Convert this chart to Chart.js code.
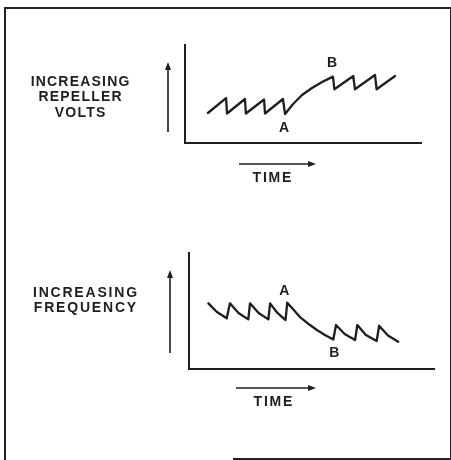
<!DOCTYPE html>
<html>
<head>
<meta charset="utf-8">
<script src="https://cdn.jsdelivr.net/npm/chart.js@4.4.0/dist/chart.umd.min.js"></script>
<style>
  html, body { margin: 0; padding: 0; background: #fff; }
  body { width: 451px; height: 460px; position: relative; overflow: hidden; }
  #frame { position: absolute; left: 4px; top: 7px; width: 444px; height: 460px;
           border-left: 2px solid #222; border-top: 2px solid #222; border-right: 2px solid #222; }
  #frameBottom { position: absolute; left: 233px; top: 458px; width: 218px; border-top: 2px solid #222; }
  canvas { position: absolute; left: 0; }
</style>
</head>
<body>
<div id="frame"></div>
<div id="frameBottom"></div>
<canvas id="topChart" width="451" height="230" style="top:0"></canvas>
<canvas id="bottomChart" width="451" height="230" style="top:230px"></canvas>
<script>
// upper trace: repeller volts vs time (0-100 arbitrary units)
const topTime  = [9.7, 17.4, 17.8, 25.4, 25.8, 33.5, 33.9, 41.5, 42.4, 45.8, 49.6, 53.8, 58.1, 62.7, 63.3, 71.3, 72.0, 80.5, 81.2, 89.0];
const topVolts = [30.6, 45.9, 30.1, 44.9, 30.1, 44.4, 30.1, 44.9, 29.6, 39.8, 49.0, 56.1, 62.2, 67.7, 54.8, 68.4, 54.8, 69.4, 54.8, 68.4];
const topLabels = ['INCREASING', 'REPELLER', 'VOLTS'];
const topMarks = { A: 8, B: 13 };

// lower trace: frequency vs time
const bottomTime = [7.9, 11.4, 15.4, 16.7, 20.2, 24.2, 24.9, 28.4, 32.4, 33.1, 36.1, 39.4, 40.1, 42.4, 45.3, 49.4, 52.2, 55.5, 58.9, 60.0, 63.5, 67.8, 68.7, 72.2, 76.6, 77.6, 81.2, 85.4];
const bottomFreq = [56.6, 49.1, 43.7, 56.6, 48.3, 42.8, 56.6, 48.3, 42.8, 56.6, 48.3, 42.2, 57.2, 51.7, 44.8, 37.9, 33.6, 29.3, 25.4, 37.9, 30.2, 25.0, 37.9, 29.3, 24.1, 37.3, 28.9, 23.5];
const bottomLabels = ['INCREASING', 'FREQUENCY'];
const bottomMarks = { A: 12, B: 18 };

const ink = '#1e1e1e';

function spacedText(ctx, text, x, y, size, spacing) {
  ctx.save();
  ctx.font = 'bold ' + size + 'px "Liberation Sans", Arial, sans-serif';
  ctx.letterSpacing = spacing + 'px';
  ctx.fillStyle = ink;
  ctx.textAlign = 'center';
  ctx.textBaseline = 'middle';
  ctx.fillText(text, x + spacing / 2, y);
  ctx.restore();
}

function arrow(ctx, x1, y1, x2, y2) {
  const ang = Math.atan2(y2 - y1, x2 - x1);
  ctx.save();
  ctx.strokeStyle = ink;
  ctx.fillStyle = ink;
  ctx.lineWidth = 1.6;
  ctx.beginPath();
  ctx.moveTo(x1, y1);
  ctx.lineTo(x2 - 5 * Math.cos(ang), y2 - 5 * Math.sin(ang));
  ctx.stroke();
  ctx.translate(x2, y2);
  ctx.rotate(ang);
  ctx.beginPath();
  ctx.moveTo(0, 0);
  ctx.lineTo(-8, -3);
  ctx.lineTo(-8, 3);
  ctx.closePath();
  ctx.fill();
  ctx.restore();
}

// draws side caption, arrows and A/B marks around the plot
function decor(o) {
  return {
    id: 'decor',
    afterDraw(chart) {
      const ctx = chart.ctx, a = chart.chartArea;
      o.labels.forEach((t, i) => spacedText(ctx, t, a.left + o.labelDx, a.top + o.labelY + i * 15.5, 14, o.labelSpacing));
      arrow(ctx, a.left - o.upDx, a.bottom - o.upBottom, a.left - o.upDx, a.top + o.upTop);
      arrow(ctx, a.left + o.timeX1, a.bottom + o.timeDy, a.left + o.timeX2, a.bottom + o.timeDy);
      spacedText(ctx, 'TIME', a.left + o.timeTextX, a.bottom + o.timeDy + 14, 14, 1.8);
      const pts = chart.getDatasetMeta(0).data;
      Object.keys(o.marks).forEach(k => {
        const p = pts[o.marks[k]];
        const off = o.markOffsets[k];
        spacedText(ctx, k, p.x + off[0], p.y + off[1], 14, 0);
      });
    }
  };
}

function axis() {
  return {
    type: 'linear', min: 0, max: 100,
    ticks: { display: false },
    grid: { display: false, drawTicks: false, tickLength: 0 },
    border: { display: true, color: ink, width: 2 }
  };
}

function makeChart(id, xs, ys, padding, deco) {
  return new Chart(document.getElementById(id), {
    type: 'line',
    data: {
      datasets: [{
        data: xs.map((t, i) => ({ x: t, y: ys[i] })),
        borderColor: ink,
        borderWidth: 2.3,
        borderJoinStyle: 'round',
        borderCapStyle: 'round',
        pointRadius: 0,
        tension: 0,
        fill: false
      }]
    },
    options: {
      responsive: false,
      animation: false,
      events: [],
      layout: { padding: padding },
      plugins: { legend: { display: false }, tooltip: { enabled: false } },
      scales: { x: axis(), y: axis() }
    },
    plugins: [decor(deco)]
  });
}

makeChart('topChart', topTime, topVolts,
  { left: 185, top: 45, right: 30, bottom: 87 },
  { labels: topLabels, labelDx: -105, labelY: 37, labelSpacing: 1.2,
    upDx: 17, upBottom: 11, upTop: 17,
    timeX1: 54, timeX2: 131, timeDy: 21, timeTextX: 87,
    marks: topMarks, markOffsets: { A: [-1, 14], B: [-1, -14] } });

makeChart('bottomChart', bottomTime, bottomFreq,
  { left: 189, top: 23, right: 17, bottom: 91 },
  { labels: bottomLabels, labelDx: -104, labelY: 40, labelSpacing: 1.8,
    upDx: 19, upBottom: 16, upTop: 17,
    timeX1: 47, timeX2: 127, timeDy: 19, timeTextX: 84,
    marks: bottomMarks, markOffsets: { A: [-3, -12], B: [1, 14] } });
</script>
</body>
</html>
